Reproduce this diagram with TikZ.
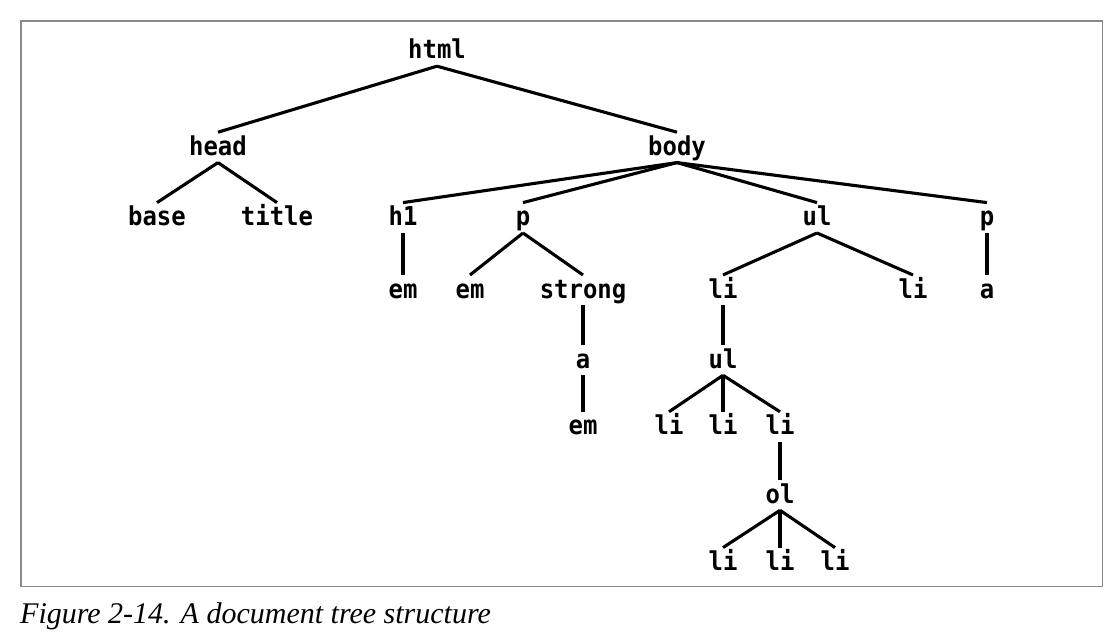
\documentclass[tikz,border=0pt]{standalone}
\usepackage{fontspec}
\usepackage{tikz}
\usetikzlibrary{positioning}
\newfontfamily\tagfont{DejaVu Sans Mono}[BoldFont={* Bold}, FakeStretch=0.92]
\newfontfamily\captionfont{Liberation Serif}
\definecolor{framegray}{HTML}{8A8A8A}
\tikzset{
  tag/.style={font=\tagfont\bfseries\fontsize{26}{26}\selectfont, inner xsep=2pt, inner ysep=5pt, text height=18pt, text depth=2pt},
  branch/.style={line width=3.1pt},
  figframe/.style={draw=framegray, line width=1.3pt},
  figcaption/.style={font=\captionfont\itshape\fontsize{30}{30}\selectfont, anchor=base west, inner sep=0pt}
}
\begin{document}
\begin{tikzpicture}[x=1pt, y=-1pt]
  \useasboundingbox (0,0) rectangle (1120,644);
  \draw[figframe] (21,21) rectangle (1102.5,586.5);
  % root and first level
  \node[tag, anchor=base] (html) at (437,59) {html};
  \node[tag, below=66pt of html, xshift=-219pt] (head) {head};
  \node[tag, below=66pt of html, xshift=240pt] (body) {body};
  % head children
  \node[tag, below=40pt of head, xshift=-61pt] (base) {base};
  \node[tag, below=40pt of head, xshift=59pt] (title) {title};
  % body children
  \node[tag, below=40pt of body, xshift=-274pt] (hone) {h1};
  \node[tag, below=40pt of body, xshift=-154pt] (para) {p};
  \node[tag, below=40pt of body, xshift=140pt] (list) {ul};
  \node[tag, below=40pt of body, xshift=310pt] (parb) {p};
  % third level
  \node[tag, below=42pt of hone] (hem) {em};
  \node[tag, below=42pt of para, xshift=-53pt] (pem) {em};
  \node[tag, below=42pt of para, xshift=60pt] (strong) {strong};
  \node[tag, below=42pt of list, xshift=-94pt] (lia) {li};
  \node[tag, below=42pt of list, xshift=96pt] (lib) {li};
  \node[tag, below=42pt of parb] (pa) {a};
  % fourth level
  \node[tag, below=39.5pt of strong] (sa) {a};
  \node[tag, below=39.5pt of lia] (sublist) {ul};
  % fifth level
  \node[tag, below=36.5pt of sa] (saem) {em};
  \node[tag, below=36.5pt of sublist, xshift=-54pt] (subli) {li};
  \node[tag, below=36.5pt of sublist] (sublii) {li};
  \node[tag, below=36.5pt of sublist, xshift=57pt] (sublij) {li};
  % ordered list
  \node[tag, below=37.7pt of sublij] (olist) {ol};
  \node[tag, below=37.3pt of olist, xshift=-57pt] (oli) {li};
  \node[tag, below=37.3pt of olist] (olii) {li};
  \node[tag, below=37.3pt of olist, xshift=55pt] (olij) {li};
  % branches
  \draw[branch] (html.south) -- (head.north);
  \draw[branch] (html.south) -- (body.north);
  \draw[branch] (head.south) -- (base.north);
  \draw[branch] (head.south) -- (title.north);
  \draw[branch] (body.south) -- (hone.north);
  \draw[branch] (body.south) -- (para.north);
  \draw[branch] (body.south) -- (list.north);
  \draw[branch] (body.south) -- (parb.north);
  \draw[branch] (hone.south) -- (hem.north);
  \draw[branch] (para.south) -- (pem.north);
  \draw[branch] (para.south) -- (strong.north);
  \draw[branch] (list.south) -- (lia.north);
  \draw[branch] (list.south) -- (lib.north);
  \draw[branch] (parb.south) -- (pa.north);
  \draw[branch] (strong.south) -- (sa.north);
  \draw[branch] (sa.south) -- (saem.north);
  \draw[branch] (lia.south) -- (sublist.north);
  \draw[branch] (sublist.south) -- (subli.north);
  \draw[branch] (sublist.south) -- (sublii.north);
  \draw[branch] (sublist.south) -- (sublij.north);
  \draw[branch] (sublij.south) -- (olist.north);
  \draw[branch] (olist.south) -- (oli.north);
  \draw[branch] (olist.south) -- (olii.north);
  \draw[branch] (olist.south) -- (olij.north);
  % caption
  \node[figcaption] (caption) at (20,623) {Figure 2-14. A document tree structure};
\end{tikzpicture}
\end{document}
